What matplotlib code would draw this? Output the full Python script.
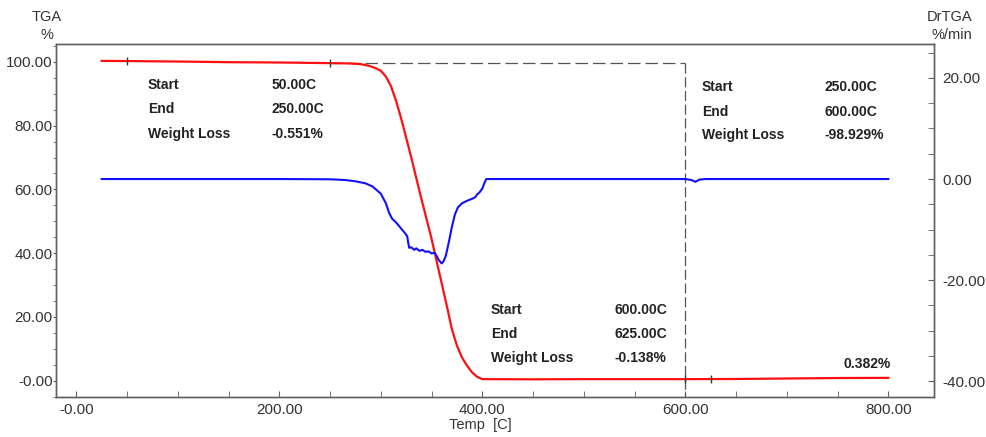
import matplotlib
matplotlib.use("Agg")
import matplotlib.pyplot as plt
import numpy as np

plt.rcParams['font.family'] = ['Liberation Sans', 'DejaVu Sans']

# TGA curve (Temp [C], weight %)
tga_temp = [25, 50, 100, 150, 200, 250, 270, 280, 285, 290, 295, 300, 305, 310, 315, 320, 325,
            330, 335, 340, 345, 350, 355, 360, 365, 370, 375, 380, 385, 390, 395, 400,
            450, 500, 550, 600, 650, 700, 750, 800]
tga_val = [100.3, 100.25, 100.1, 99.9, 99.8, 99.6, 99.5, 99.3, 99.0, 98.6, 98.0, 97.2, 95.4, 92.4, 87.8, 82.3, 76.2,
           70.0, 63.5, 57.0, 50.8, 44.5, 37.5, 30.5, 23.5, 16.2, 11.0, 7.3, 4.7, 2.6, 1.2, 0.5,
           0.45, 0.5, 0.5, 0.5, 0.55, 0.7, 0.85, 0.9]

# DrTGA curve (Temp [C], %/min)
dr_temp = [25, 100, 200, 250, 265, 275, 285, 292, 300, 305, 308, 311, 313, 316, 320, 323, 326, 327, 328,
           330, 333, 335, 338, 341, 344, 347, 350, 353, 355, 357, 360, 362, 364, 367, 370, 373, 376, 380, 385,
           390, 393, 395, 397, 400, 402, 404, 450, 500, 550, 600, 606, 610, 614, 620, 700, 800]
dr_val = [0, 0, 0, -0.05, -0.2, -0.45, -0.85, -1.5, -2.9, -4.8, -6.6, -7.8, -8.2, -8.8, -9.8, -10.5, -11.3, -12.6, -13.6,
          -13.5, -14.0, -13.7, -14.2, -14.0, -14.4, -14.3, -14.7, -14.6, -15.2, -16.0, -16.7, -16.2, -15.2, -12.5, -9.5, -7.0, -5.6, -4.8, -4.3,
          -3.9, -3.6, -3.0, -2.7, -1.9, -0.8, 0, 0, 0, 0, 0, -0.2, -0.55, -0.1, 0, 0, 0]

x_ticks = [0, 200, 400, 600, 800]
x_labels = ["-0.00", "200.00", "400.00", "600.00", "800.00"]
yl_ticks = [0, 20, 40, 60, 80, 100]
yl_labels = ["-0.00", "20.00", "40.00", "60.00", "80.00", "100.00"]
yr_ticks = [-40, -20, 0, 20]
yr_labels = ["-40.00", "-20.00", "0.00", "20.00"]

# marker positions on TGA curve and analysis ranges
mark_temps = [50, 250, 600, 625]
range_start, range_end = 250, 600
range_level = 99.6

blocks = [
    (["Start", "End", "Weight Loss"], ["50.00C", "250.00C", "-0.551%"]),
    (["Start", "End", "Weight Loss"], ["250.00C", "600.00C", "-98.929%"]),
    (["Start", "End", "Weight Loss"], ["600.00C", "625.00C", "-0.138%"]),
]
residue_label = "0.382%"

fig = plt.figure(figsize=(9.87, 4.37), dpi=100)
ax = fig.add_axes([56/987, 40/437, (934-56)/987, (397-44)/437])
ax2 = ax.twinx()

spine_col = '#606060'
text_col = '#333333'

ax.plot(tga_temp, tga_val, color='#ff1010', lw=1.6, zorder=3)
ax2.plot(dr_temp, dr_val, color='#1010ff', lw=1.5, zorder=3)

# tick marks on the TGA curve
mark_vals = np.interp(mark_temps, tga_temp, tga_val)
ax.plot(mark_temps, mark_vals, linestyle='none', marker='|', color='#333333', ms=6, mew=1, zorder=4)

# dashed range lines
ax.plot([range_start, range_end], [range_level, range_level], ls=(0, (10, 4)), color='#555555', lw=0.9, zorder=2)
ax.plot([range_end, range_end], [range_level, -5.1], ls=(0, (8, 3)), color='#555555', lw=0.9, zorder=2)

ax.set_xlim(-20, 845)
ax.set_ylim(-5.1, 105.6)
ax2.set_ylim(-43.1, 26.7)

ax.set_xticks(x_ticks)
ax.set_xticklabels(x_labels)
ax.set_xticks(np.arange(50, 845, 50), minor=True)
ax.set_yticks(yl_ticks)
ax.set_yticklabels(yl_labels)
ax.set_yticks(np.arange(-5, 106, 5), minor=True)
ax2.set_yticks(yr_ticks)
ax2.set_yticklabels(yr_labels)
ax2.set_yticks(np.arange(-40, 26, 5), minor=True)

for a in (ax, ax2):
    for s in a.spines.values():
        s.set_color(spine_col)
        s.set_linewidth(1.0)

ax.tick_params(axis='x', which='both', direction='in', length=4, color=spine_col,
               labelsize=11, labelcolor=text_col, pad=4, top=False)
ax.tick_params(axis='y', which='both', direction='out', length=2.5, color=spine_col,
               labelsize=11, labelcolor=text_col, pad=0)
ax2.tick_params(axis='y', which='both', direction='in', length=4, color=spine_col,
                labelsize=11, labelcolor=text_col, pad=6)

fig.text(47/987, 1 - 17/437, "TGA", ha='center', va='center', fontsize=10.5, color=text_col)
fig.text(47/987, 1 - 35/437, "%", ha='center', va='center', fontsize=10.5, color=text_col)
fig.text(950/987, 1 - 17/437, "DrTGA", ha='center', va='center', fontsize=10.5, color=text_col)
fig.text(952/987, 1 - 35/437, "%/min", ha='center', va='center', fontsize=10.5, color=text_col)
fig.text(480/987, 1 - 425/437, "Temp  [C]", ha='center', va='center', fontsize=10.5, color=text_col)

# annotation blocks (pixel positions)
block_pos = [((148, 272), (85, 109, 134)), ((702, 825), (87, 112, 135)), ((491, 615), (310, 334, 358))]
for (labels, values), ((xl, xv), ys) in zip(blocks, block_pos):
    for lab, val, y in zip(labels, values, ys):
        fig.text(xl/987, 1 - y/437, lab, ha='left', va='center', fontsize=10, fontweight='bold', color='#222222')
        fig.text(xv/987, 1 - y/437, val, ha='left', va='center', fontsize=10, fontweight='bold', color='#222222')
fig.text(891/987, 1 - 364/437, residue_label, ha='right', va='center', fontsize=10, fontweight='bold', color='#222222')

fig.savefig("out.png", dpi=100)
